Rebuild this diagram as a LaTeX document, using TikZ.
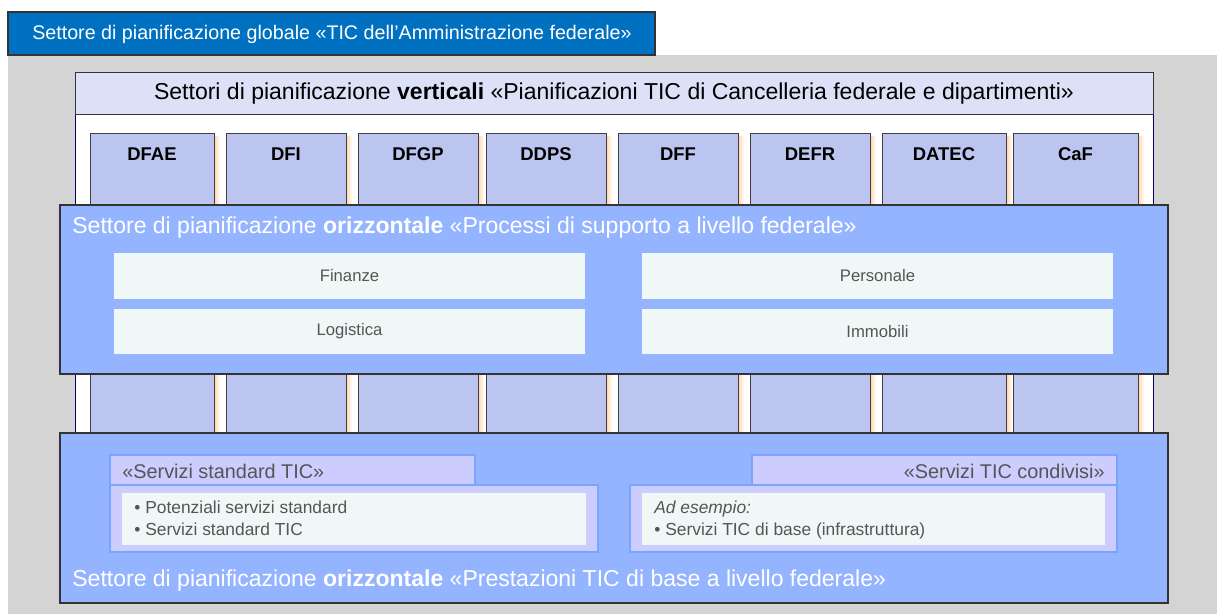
\documentclass[tikz,border=0pt]{standalone}
\usepackage{fontspec}
\setmainfont{Liberation Sans}
\usetikzlibrary{positioning}
\definecolor{bggray}{RGB}{212,212,212}
\definecolor{globblue}{RGB}{0,112,192}
\definecolor{headlav}{RGB}{221,225,247}
\definecolor{deptlav}{RGB}{188,196,240}
\definecolor{bandblue}{RGB}{149,180,255}
\definecolor{procmint}{RGB}{240,248,247}
\definecolor{tablav}{RGB}{204,204,255}
\definecolor{tabline}{RGB}{122,165,255}
\definecolor{txtgray}{RGB}{85,85,85}
\tikzset{
  globbox/.style={fill=globblue,draw=black!80,line width=0.6pt},
  vpanel/.style={fill=white,draw=black!60!blue,line width=0.5pt},
  vhead/.style={fill=headlav,draw=black!80,line width=0.5pt},
  deptcol/.style={fill=deptlav,draw=black!75,line width=0.5pt},
  deptlabel/.style={font=\fontsize{10.5}{12}\selectfont\bfseries},
  hband/.style={fill=bandblue,draw=black!80,line width=0.6pt},
  bandtitle/.style={text=white,font=\fontsize{13.1}{15}\selectfont,anchor=west,inner sep=0pt},
  procbox/.style={fill=procmint,text=txtgray,minimum width=9.42cm,minimum height=0.92cm,inner sep=0pt,font=\fontsize{9.5}{11}\selectfont},
  servtab/.style={fill=tablav,draw=tabline,line width=0.7pt},
  servinner/.style={fill=procmint},
  servtext/.style={text=txtgray,font=\fontsize{9.9}{12}\selectfont,align=left,inner sep=0pt,anchor=north west},
  tabtext/.style={text=txtgray,font=\fontsize{11.3}{13}\selectfont,inner sep=0pt}
}
\begin{document}
\begin{tikzpicture}[x=0.02cm,y=-0.02cm]
\useasboundingbox (0,0) rectangle (1217,614);
\fill[bggray] (8,55) rectangle (1217,614);
% global sector
\draw[globbox] (8,12) rectangle (655,55);
\node[text=white,font=\fontsize{11.2}{13}\selectfont] (glob) at (332,34) {Settore di pianificazione globale «TIC dell’Amministrazione federale»};
% vertical sectors
\draw[vpanel] (75,72) rectangle (1153,440);
\draw[vhead] (75,72) rectangle (1153,114);
\node[font=\fontsize{13.1}{15}\selectfont] (vert) at (614,94) {Settori di pianificazione \textbf{verticali} «Pianificazioni TIC di Cancelleria federale e dipartimenti»};
\foreach \l/\w/\lab in {90/124/DFAE,226/120/DFI,358/120/DFGP,486/120/DDPS,618/120/DFF,750/120/DEFR,882/124/DATEC,1013/125/CaF}{
  \shade[left color=orange!35,right color=white] (\l+\w,137) rectangle +(6,300);
  \draw[deptcol] (\l,133) rectangle +(\w,307);
  \node[deptlabel] (d-\lab) at (\l+\w/2,154) {\lab};
}
% support processes
\draw[hband] (60,205) rectangle (1168,374);
\node[bandtitle] (proc) at (72,228) {Settore di pianificazione \textbf{orizzontale} «Processi di supporto a livello federale»};
\node[procbox] (fin) at (349.5,276) {Finanze};
\node[procbox] (pers) at (877.5,276) {Personale};
\node[procbox] (logi) at (349.5,331.5) {Logistica};
\node[procbox] (immo) at (877.5,331.5) {Immobili};
% basic services
\draw[hband] (60,433) rectangle (1168,603);
\node[bandtitle] (base) at (72,581) {Settore di pianificazione \textbf{orizzontale} «Prestazioni TIC di base a livello federale»};
\draw[servtab] (110,455) rectangle (475,485);
\draw[servtab] (110,485) rectangle (598,552);
\fill[servinner] (122,493) rectangle (586,545);
\node[tabtext,anchor=west] (std) at (122,471) {«Servizi standard TIC»};
\node[servtext] (stdlist) at (134,501) {• Potenziali servizi standard\\• Servizi standard TIC};
\draw[servtab] (752,455) rectangle (1117,485);
\draw[servtab] (630,485) rectangle (1117,552);
\fill[servinner] (642,493) rectangle (1105,545);
\node[tabtext,anchor=east] (shared) at (1105,471) {«Servizi TIC condivisi»};
\node[servtext] (sharedlist) at (654,501) {\textit{Ad esempio:}\\• Servizi TIC di base (infrastruttura)};
\end{tikzpicture}
\end{document}
